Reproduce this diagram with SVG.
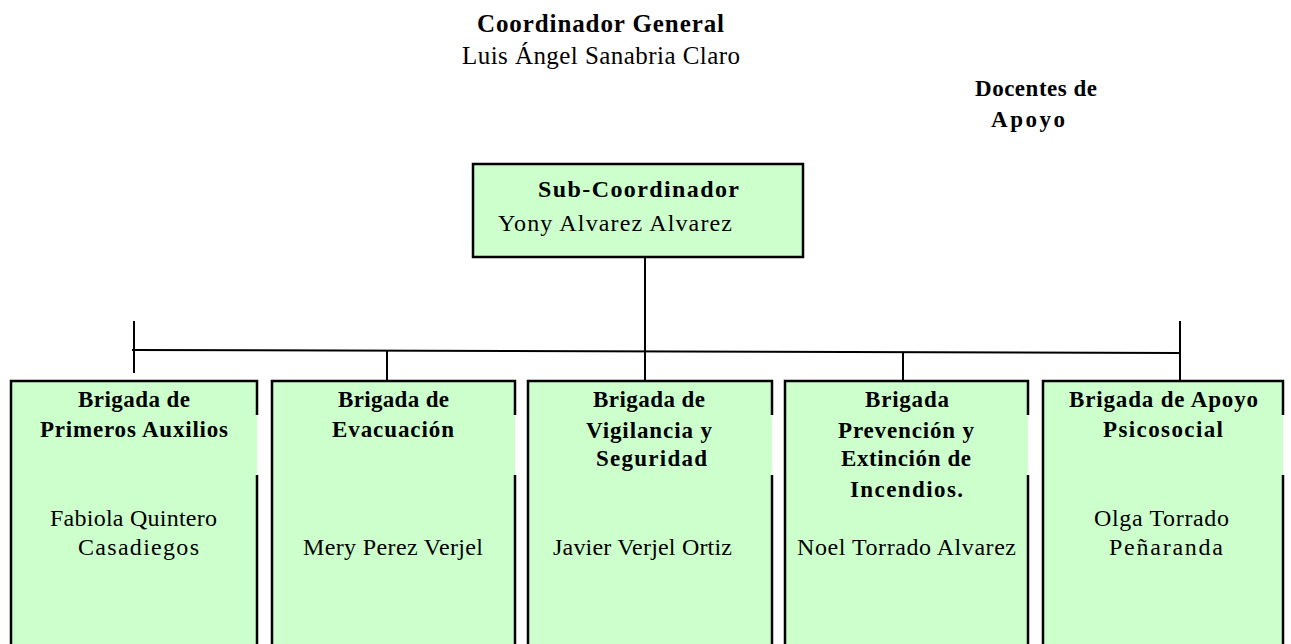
<svg xmlns="http://www.w3.org/2000/svg" width="1291" height="644" viewBox="0 0 1291 644">
<style>
.t{font-family:"Liberation Serif","Times New Roman",serif;fill:#000}
.b{font-weight:bold}
.h{font-size:23px;font-weight:bold}
.n{font-size:24px}
.fill{fill:#CCFFCC;stroke:none}
.bd{fill:none;stroke:#000;stroke-width:2.5}
.c{fill:none;stroke:#000;stroke-width:2}
</style>
<rect width="1291" height="644" fill="#fff"/>
<g id="coordinador">
<text class="t b" x="477" y="32" font-size="25" textLength="247">Coordinador General</text>
<text class="t" x="462" y="64" font-size="25" textLength="278">Luis Ángel Sanabria Claro</text>
</g>
<g id="docentes">
<text class="t h" x="975" y="96" textLength="122">Docentes de</text>
<text class="t h" x="991" y="127" textLength="74">Apoyo</text>
</g>
<g id="connectors">
<line class="c" x1="645" y1="257" x2="645" y2="381"/>
<line class="c" x1="132" y1="350" x2="1180" y2="353"/>
<line class="c" x1="134" y1="321" x2="134" y2="373"/>
<line class="c" x1="1180" y1="321" x2="1180" y2="381"/>
<line class="c" x1="387" y1="351" x2="387" y2="381"/>
<line class="c" x1="903" y1="352" x2="903" y2="381"/>
</g>
<g id="sub-coordinador">
<rect class="fill" x="473" y="164" width="330" height="93"/>
<rect class="bd" x="473" y="164" width="330" height="93"/>
<text class="t b" x="538" y="197" font-size="24" textLength="201">Sub-Coordinador</text>
<text class="t n" x="498" y="231" textLength="234">Yony Alvarez Alvarez</text>
</g>
<g id="brigada-primeros-auxilios">
<rect class="fill" x="11" y="381" width="246" height="270"/>
<path class="bd" d="M11,650 V381 H257 V415 M257,475 V650"/>
<text class="t h" x="78" y="407" textLength="112">Brigada de</text>
<text class="t h" x="40" y="437" textLength="188">Primeros Auxilios</text>
<text class="t n" x="50" y="526" textLength="167">Fabiola Quintero</text>
<text class="t n" x="78" y="555" textLength="121">Casadiegos</text>
</g>
<g id="brigada-evacuacion">
<rect class="fill" x="272" y="381" width="243" height="270"/>
<path class="bd" d="M272,650 V381 H515 V415 M515,475 V650"/>
<text class="t h" x="338" y="407" textLength="111">Brigada de</text>
<text class="t h" x="332" y="437" textLength="122">Evacuación</text>
<text class="t n" x="303" y="555" textLength="180">Mery Perez Verjel</text>
</g>
<g id="brigada-vigilancia">
<rect class="fill" x="528" y="381" width="244" height="270"/>
<path class="bd" d="M528,650 V381 H772 V415 M772,475 V650"/>
<text class="t h" x="593" y="407" textLength="112">Brigada de</text>
<text class="t h" x="586" y="438" textLength="126">Vigilancia y</text>
<text class="t h" x="596" y="466" textLength="111">Seguridad</text>
<text class="t n" x="553" y="555" textLength="179">Javier Verjel Ortiz</text>
</g>
<g id="brigada-prevencion">
<rect class="fill" x="785" y="381" width="243" height="270"/>
<path class="bd" d="M785,650 V381 H1028 V415 M1028,475 V650"/>
<text class="t h" x="865" y="407" textLength="84">Brigada</text>
<text class="t h" x="838" y="438" textLength="136">Prevención y</text>
<text class="t h" x="841" y="466" textLength="130">Extinción de</text>
<text class="t h" x="850" y="497" textLength="113">Incendios.</text>
<text class="t n" x="797" y="555" textLength="219">Noel Torrado Alvarez</text>
</g>
<g id="brigada-apoyo-psicosocial">
<rect class="fill" x="1043" y="381" width="240" height="270"/>
<path class="bd" d="M1043,650 V381 H1283 V415 M1283,475 V650"/>
<text class="t h" x="1069" y="407" textLength="189">Brigada de Apoyo</text>
<text class="t h" x="1103" y="437" textLength="120">Psicosocial</text>
<text class="t n" x="1094" y="526" textLength="135">Olga Torrado</text>
<text class="t n" x="1109" y="555" textLength="114">Peñaranda</text>
</g>
</svg>
